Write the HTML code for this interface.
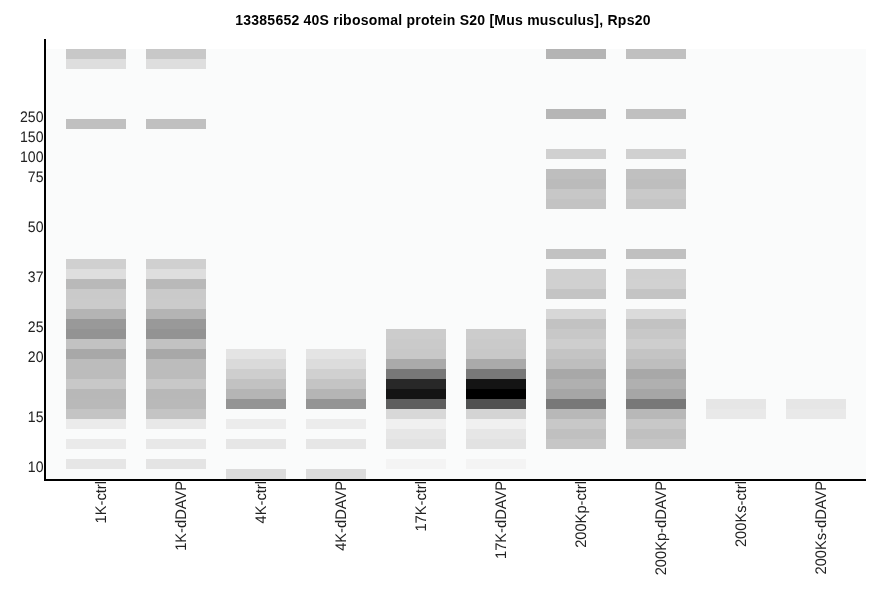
<!DOCTYPE html>
<html><head><meta charset="utf-8"><title>chart</title>
<style>
html,body{margin:0;padding:0;background:#fff;}
body{width:886px;height:595px;position:relative;overflow:hidden;font-family:"Liberation Sans",sans-serif;color:#000;}
.b{position:absolute;width:60px;height:10px;}
#plot{position:absolute;left:46px;top:49px;width:820px;height:430px;background:#fafbfb;}
#yax{position:absolute;left:44px;top:39px;width:2px;height:442px;background:#000;}
#xax{position:absolute;left:44px;top:479px;width:822px;height:2px;background:#000;}
#title{position:absolute;left:0;top:12px;width:886px;text-align:center;font-weight:bold;font-size:14px;letter-spacing:0.235px;line-height:16px;white-space:nowrap;}
.yl{position:absolute;color:#222;left:0;width:43.5px;text-align:right;font-size:15.3px;line-height:16px;height:16px;text-rendering:geometricPrecision;transform-origin:100% 0;transform:scaleX(0.92);}
.xl{position:absolute;color:#222;font-size:15.3px;line-height:16px;height:16px;white-space:nowrap;text-rendering:geometricPrecision;transform-origin:100% 0;transform:rotate(-90deg) scaleX(0.959);text-align:right;width:120px;}
</style></head><body>
<div id="plot"></div>
<div class="b" style="left:66px;top:49px;background:#c8c8c8"></div><div class="b" style="left:66px;top:59px;background:#dedede"></div><div class="b" style="left:66px;top:119px;background:#c0c0c0"></div><div class="b" style="left:66px;top:259px;background:#d0d0d0"></div><div class="b" style="left:66px;top:269px;background:#dedede"></div><div class="b" style="left:66px;top:279px;background:#b9b9b9"></div><div class="b" style="left:66px;top:289px;background:#cacaca"></div><div class="b" style="left:66px;top:299px;background:#cbcbcb"></div><div class="b" style="left:66px;top:309px;background:#b4b4b4"></div><div class="b" style="left:66px;top:319px;background:#999999"></div><div class="b" style="left:66px;top:329px;background:#939393"></div><div class="b" style="left:66px;top:339px;background:#c2c2c2"></div><div class="b" style="left:66px;top:349px;background:#a8a8a8"></div><div class="b" style="left:66px;top:359px;background:#bcbcbc"></div><div class="b" style="left:66px;top:369px;background:#bcbcbc"></div><div class="b" style="left:66px;top:379px;background:#c8c8c8"></div><div class="b" style="left:66px;top:389px;background:#b8b8b8"></div><div class="b" style="left:66px;top:399px;background:#b9b9b9"></div><div class="b" style="left:66px;top:409px;background:#c4c4c4"></div><div class="b" style="left:66px;top:419px;background:#ebebeb"></div><div class="b" style="left:66px;top:439px;background:#eaeaea"></div><div class="b" style="left:66px;top:459px;background:#e6e6e6"></div>
<div class="b" style="left:146px;top:49px;background:#c8c8c8"></div><div class="b" style="left:146px;top:59px;background:#dedede"></div><div class="b" style="left:146px;top:119px;background:#c0c0c0"></div><div class="b" style="left:146px;top:259px;background:#d0d0d0"></div><div class="b" style="left:146px;top:269px;background:#dedede"></div><div class="b" style="left:146px;top:279px;background:#b9b9b9"></div><div class="b" style="left:146px;top:289px;background:#cacaca"></div><div class="b" style="left:146px;top:299px;background:#cbcbcb"></div><div class="b" style="left:146px;top:309px;background:#b4b4b4"></div><div class="b" style="left:146px;top:319px;background:#999999"></div><div class="b" style="left:146px;top:329px;background:#939393"></div><div class="b" style="left:146px;top:339px;background:#c2c2c2"></div><div class="b" style="left:146px;top:349px;background:#a8a8a8"></div><div class="b" style="left:146px;top:359px;background:#bcbcbc"></div><div class="b" style="left:146px;top:369px;background:#bcbcbc"></div><div class="b" style="left:146px;top:379px;background:#c8c8c8"></div><div class="b" style="left:146px;top:389px;background:#b8b8b8"></div><div class="b" style="left:146px;top:399px;background:#b9b9b9"></div><div class="b" style="left:146px;top:409px;background:#c4c4c4"></div><div class="b" style="left:146px;top:419px;background:#e8e8e8"></div><div class="b" style="left:146px;top:439px;background:#e8e8e8"></div><div class="b" style="left:146px;top:459px;background:#e4e4e4"></div>
<div class="b" style="left:226px;top:349px;background:#e4e4e4"></div><div class="b" style="left:226px;top:359px;background:#dadada"></div><div class="b" style="left:226px;top:369px;background:#cecece"></div><div class="b" style="left:226px;top:379px;background:#c2c2c2"></div><div class="b" style="left:226px;top:389px;background:#b5b5b5"></div><div class="b" style="left:226px;top:399px;background:#949494"></div><div class="b" style="left:226px;top:419px;background:#ececec"></div><div class="b" style="left:226px;top:439px;background:#e6e6e6"></div><div class="b" style="left:226px;top:469px;background:#dcdcdc"></div>
<div class="b" style="left:306px;top:349px;background:#e4e4e4"></div><div class="b" style="left:306px;top:359px;background:#dcdcdc"></div><div class="b" style="left:306px;top:369px;background:#d0d0d0"></div><div class="b" style="left:306px;top:379px;background:#c4c4c4"></div><div class="b" style="left:306px;top:389px;background:#b5b5b5"></div><div class="b" style="left:306px;top:399px;background:#949494"></div><div class="b" style="left:306px;top:419px;background:#ececec"></div><div class="b" style="left:306px;top:439px;background:#e6e6e6"></div><div class="b" style="left:306px;top:469px;background:#dcdcdc"></div>
<div class="b" style="left:386px;top:329px;background:#cccccc"></div><div class="b" style="left:386px;top:339px;background:#cacaca"></div><div class="b" style="left:386px;top:349px;background:#c8c8c8"></div><div class="b" style="left:386px;top:359px;background:#aaaaaa"></div><div class="b" style="left:386px;top:369px;background:#787878"></div><div class="b" style="left:386px;top:379px;background:#282828"></div><div class="b" style="left:386px;top:389px;background:#141414"></div><div class="b" style="left:386px;top:399px;background:#5e5e5e"></div><div class="b" style="left:386px;top:409px;background:#d8d8d8"></div><div class="b" style="left:386px;top:419px;background:#f0f0f0"></div><div class="b" style="left:386px;top:429px;background:#e6e6e6"></div><div class="b" style="left:386px;top:439px;background:#e2e2e2"></div><div class="b" style="left:386px;top:459px;background:#f4f4f4"></div>
<div class="b" style="left:466px;top:329px;background:#cccccc"></div><div class="b" style="left:466px;top:339px;background:#cacaca"></div><div class="b" style="left:466px;top:349px;background:#c8c8c8"></div><div class="b" style="left:466px;top:359px;background:#aaaaaa"></div><div class="b" style="left:466px;top:369px;background:#787878"></div><div class="b" style="left:466px;top:379px;background:#141414"></div><div class="b" style="left:466px;top:389px;background:#000000"></div><div class="b" style="left:466px;top:399px;background:#505050"></div><div class="b" style="left:466px;top:409px;background:#d4d4d4"></div><div class="b" style="left:466px;top:419px;background:#f0f0f0"></div><div class="b" style="left:466px;top:429px;background:#e6e6e6"></div><div class="b" style="left:466px;top:439px;background:#e2e2e2"></div><div class="b" style="left:466px;top:459px;background:#f4f4f4"></div>
<div class="b" style="left:546px;top:49px;background:#b4b4b4"></div><div class="b" style="left:546px;top:109px;background:#b6b6b6"></div><div class="b" style="left:546px;top:149px;background:#d0d0d0"></div><div class="b" style="left:546px;top:169px;background:#bebebe"></div><div class="b" style="left:546px;top:179px;background:#bbbbbb"></div><div class="b" style="left:546px;top:189px;background:#c7c7c7"></div><div class="b" style="left:546px;top:199px;background:#c3c3c3"></div><div class="b" style="left:546px;top:249px;background:#c2c2c2"></div><div class="b" style="left:546px;top:269px;background:#d0d0d0"></div><div class="b" style="left:546px;top:279px;background:#d0d0d0"></div><div class="b" style="left:546px;top:289px;background:#c4c4c4"></div><div class="b" style="left:546px;top:309px;background:#d7d7d7"></div><div class="b" style="left:546px;top:319px;background:#c2c2c2"></div><div class="b" style="left:546px;top:329px;background:#c8c8c8"></div><div class="b" style="left:546px;top:339px;background:#cecece"></div><div class="b" style="left:546px;top:349px;background:#c4c4c4"></div><div class="b" style="left:546px;top:359px;background:#bebebe"></div><div class="b" style="left:546px;top:369px;background:#a8a8a8"></div><div class="b" style="left:546px;top:379px;background:#b0b0b0"></div><div class="b" style="left:546px;top:389px;background:#a6a6a6"></div><div class="b" style="left:546px;top:399px;background:#787878"></div><div class="b" style="left:546px;top:409px;background:#b8b8b8"></div><div class="b" style="left:546px;top:419px;background:#c8c8c8"></div><div class="b" style="left:546px;top:429px;background:#c0c0c0"></div><div class="b" style="left:546px;top:439px;background:#c6c6c6"></div>
<div class="b" style="left:626px;top:49px;background:#c0c0c0"></div><div class="b" style="left:626px;top:109px;background:#c0c0c0"></div><div class="b" style="left:626px;top:149px;background:#d0d0d0"></div><div class="b" style="left:626px;top:169px;background:#c0c0c0"></div><div class="b" style="left:626px;top:179px;background:#bebebe"></div><div class="b" style="left:626px;top:189px;background:#c9c9c9"></div><div class="b" style="left:626px;top:199px;background:#c5c5c5"></div><div class="b" style="left:626px;top:249px;background:#c0c0c0"></div><div class="b" style="left:626px;top:269px;background:#d0d0d0"></div><div class="b" style="left:626px;top:279px;background:#d1d1d1"></div><div class="b" style="left:626px;top:289px;background:#c4c4c4"></div><div class="b" style="left:626px;top:309px;background:#dbdbdb"></div><div class="b" style="left:626px;top:319px;background:#c2c2c2"></div><div class="b" style="left:626px;top:329px;background:#c8c8c8"></div><div class="b" style="left:626px;top:339px;background:#cecece"></div><div class="b" style="left:626px;top:349px;background:#c4c4c4"></div><div class="b" style="left:626px;top:359px;background:#bebebe"></div><div class="b" style="left:626px;top:369px;background:#a8a8a8"></div><div class="b" style="left:626px;top:379px;background:#b0b0b0"></div><div class="b" style="left:626px;top:389px;background:#a6a6a6"></div><div class="b" style="left:626px;top:399px;background:#787878"></div><div class="b" style="left:626px;top:409px;background:#b8b8b8"></div><div class="b" style="left:626px;top:419px;background:#c8c8c8"></div><div class="b" style="left:626px;top:429px;background:#c0c0c0"></div><div class="b" style="left:626px;top:439px;background:#c6c6c6"></div>
<div class="b" style="left:706px;top:399px;background:#e6e6e6"></div><div class="b" style="left:706px;top:409px;background:#e9e9e9"></div>
<div class="b" style="left:786px;top:399px;background:#e6e6e6"></div><div class="b" style="left:786px;top:409px;background:#e9e9e9"></div>
<div id="yax"></div><div id="xax"></div>
<div id="title">13385652 40S ribosomal protein S20 [Mus musculus], Rps20</div>
<div class="yl" style="top:110px">250</div><div class="yl" style="top:130px">150</div><div class="yl" style="top:150px">100</div><div class="yl" style="top:170px">75</div><div class="yl" style="top:220px">50</div><div class="yl" style="top:270px">37</div><div class="yl" style="top:320px">25</div><div class="yl" style="top:350px">20</div><div class="yl" style="top:410px">15</div><div class="yl" style="top:460px">10</div>
<div class="xl" style="left:-26px;top:481px">1K-ctrl</div><div class="xl" style="left:54px;top:481px">1K-dDAVP</div><div class="xl" style="left:134px;top:481px">4K-ctrl</div><div class="xl" style="left:214px;top:481px">4K-dDAVP</div><div class="xl" style="left:294px;top:481px">17K-ctrl</div><div class="xl" style="left:374px;top:481px">17K-dDAVP</div><div class="xl" style="left:454px;top:481px">200Kp-ctrl</div><div class="xl" style="left:534px;top:481px">200Kp-dDAVP</div><div class="xl" style="left:614px;top:481px">200Ks-ctrl</div><div class="xl" style="left:694px;top:481px">200Ks-dDAVP</div>
</body></html>
